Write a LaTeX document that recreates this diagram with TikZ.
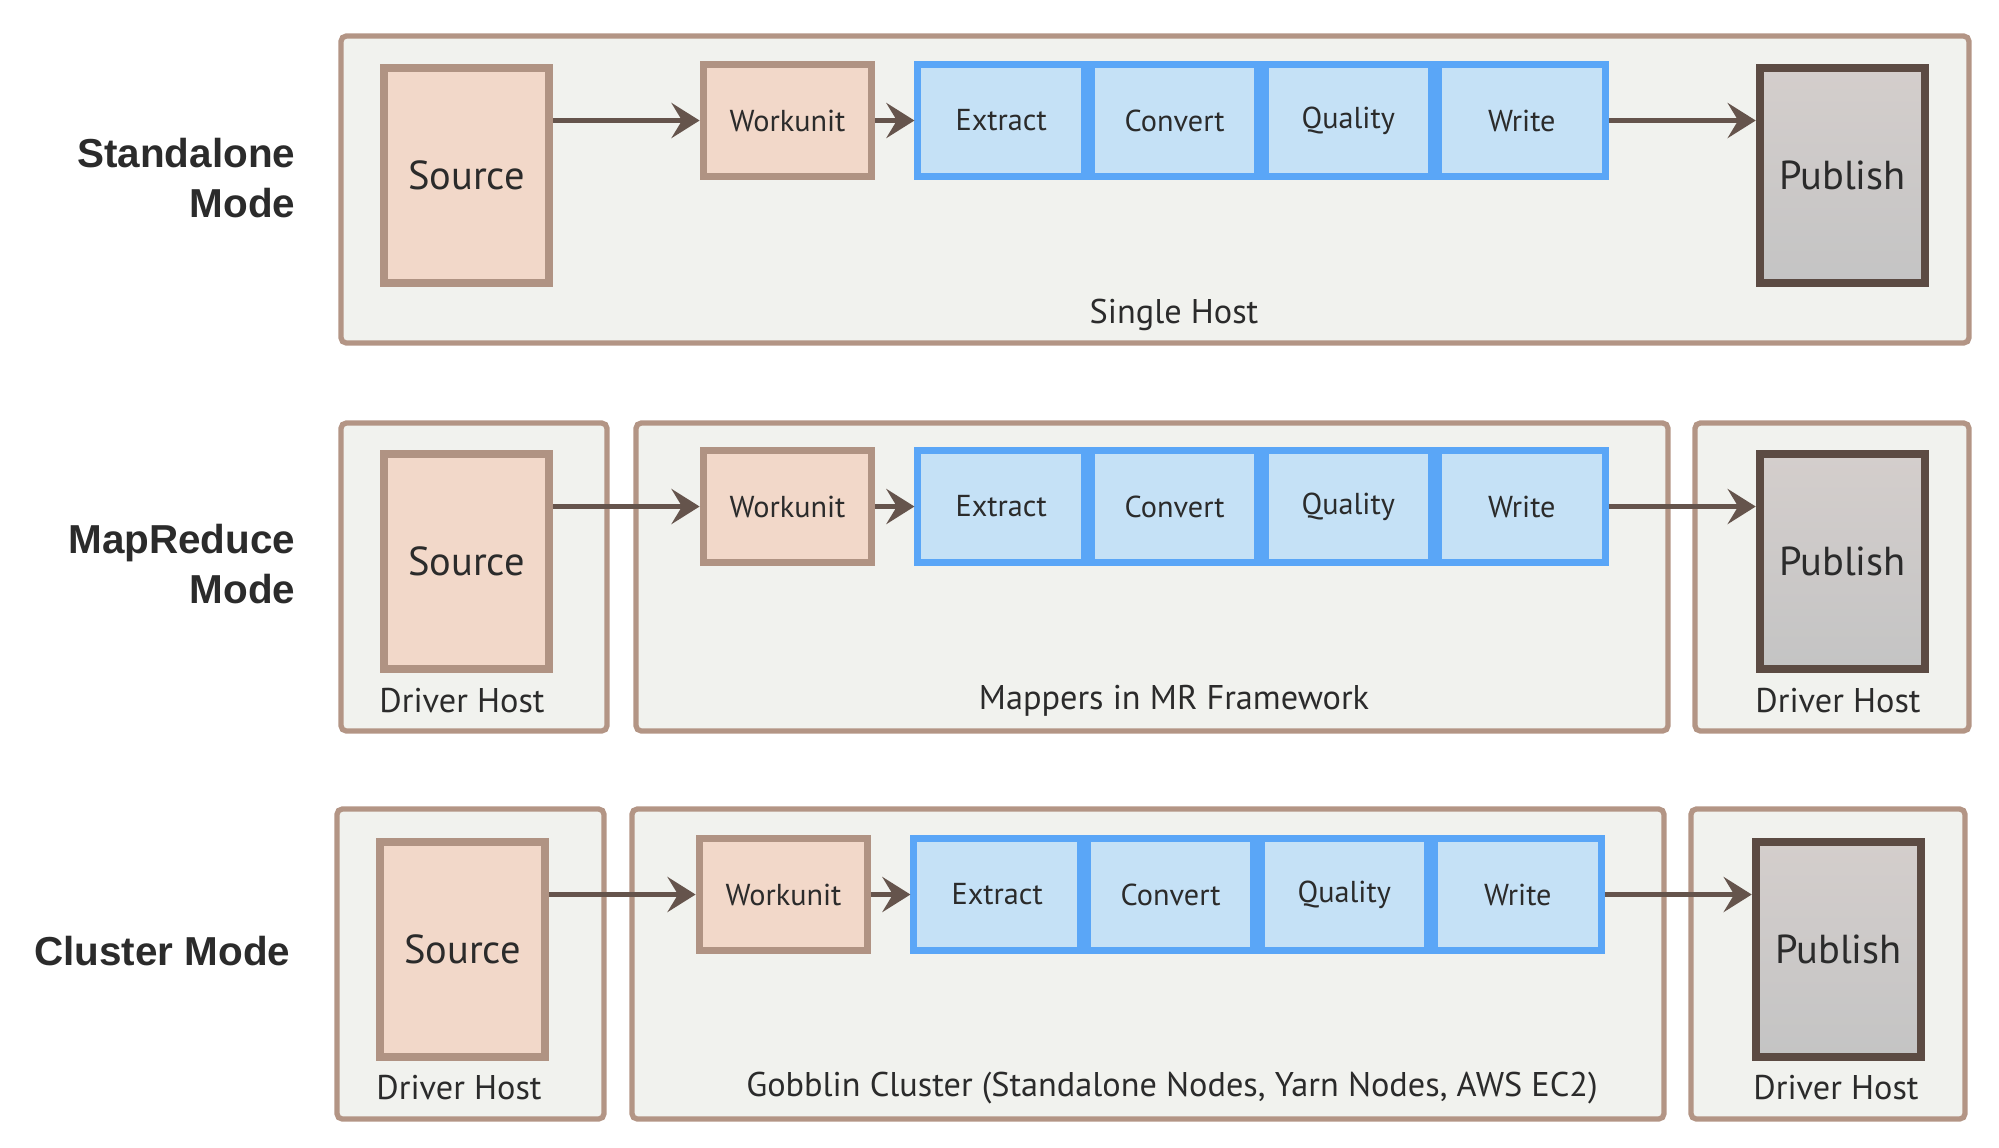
\documentclass[tikz,border=0pt]{standalone}
\usepackage{fontspec}
\setmainfont{PT Sans}
\newfontfamily\modefont{Liberation Sans}
\usetikzlibrary{arrows.meta}
\usetikzlibrary{positioning}
\definecolor{host line}{HTML}{B39585}
\definecolor{host fill}{HTML}{F1F2EE}
\definecolor{peach}{HTML}{F2D8C9}
\definecolor{peach line}{HTML}{B09383}
\definecolor{stage fill}{HTML}{C5E1F6}
\definecolor{stage line}{HTML}{5AA6F7}
\definecolor{pub line}{HTML}{5C4B43}
\definecolor{pub top}{HTML}{D4CECC}
\definecolor{pub bottom}{HTML}{C4C4C4}
\definecolor{arrow line}{HTML}{65544C}
\definecolor{ink}{HTML}{2B2B2B}
\tikzstyle{host}=[draw=host line,fill=host fill,line width=1.5pt,rounded corners=1.5pt]
\tikzstyle{flow}=[draw=arrow line,line width=1.2pt,-{Stealth[length=8pt,width=10pt,inset=3pt]}]

\begin{document}
\begin{tikzpicture}[x=0.01cm,y=-0.01cm,text=ink,
  big/.style={font=\fontsize{11.5}{13}\selectfont},
  small/.style={font=\fontsize{8.6}{10}\selectfont},
  source/.style={draw=peach line,fill=peach,line width=2.4pt,minimum width=1.65cm,minimum height=2.15cm,inner sep=0,big},
  workunit/.style={source,minimum width=1.68cm,minimum height=1.12cm,line width=2.2pt,small},
  stage/.style={draw=stage line,fill=stage fill,line width=2pt,minimum width=1.664cm,minimum height=1.12cm,inner sep=0,small},
  publish/.style={source,draw=pub line,top color=pub top,bottom color=pub bottom},
  hostlabel/.style={font=\fontsize{9.75}{11}\selectfont,inner sep=0},
  modelabel/.style={font=\modefont\bfseries\fontsize{11.5}{14.2}\selectfont,align=right,anchor=east,inner sep=0},
]
  \useasboundingbox (0,0) rectangle (1999,1147);

  % hosts
  \draw[host] (341,36) rectangle (1969,343);
  \draw[host] (341,423) rectangle (607,731);
  \draw[host] (636,423) rectangle (1668,731);
  \draw[host] (1695,423) rectangle (1969,731);
  \draw[host] (337,809) rectangle (604,1119);
  \draw[host] (632,809) rectangle (1664,1119);
  \draw[host] (1691,809) rectangle (1965,1119);

  \node[hostlabel] (single) at (1174,315) {Single Host};
  \node[hostlabel] (drv2a) at (462,701) {Driver Host};
  \node[hostlabel] (mappers) at (1174,701) {Mappers in MR Framework};
  \node[hostlabel] (drv2b) at (1838,701) {Driver Host};
  \node[hostlabel] (drv3a) at (459,1088) {Driver Host};
  \node[hostlabel] (gobblin) at (1172,1088) {Gobblin Cluster (Standalone Nodes, Yarn Nodes, AWS EC2)};
  \node[hostlabel] (drv3b) at (1836,1088) {Driver Host};

  \node[modelabel] (standalone) at (296,178) {Standalone\\Mode};
  \node[modelabel] (mapreduce) at (296,564) {MapReduce\\Mode};
  \node[modelabel] (cluster) at (291,951) {Cluster Mode};

  % pipelines
  \foreach \r/\dx/\dy in {1/0/0,2/0/386,3/-4/774}{
    \begin{scope}[shift={(\dx,\dy)}]
      \node[source] (src\r) at (466.5,175.5) {Source};
      \node[workunit] (wu\r) at (787.5,120.5) {Workunit};
      \node[stage,right=0.39cm of wu\r] (ex\r) {Extract};
      \node[stage,right=0pt of ex\r] (cv\r) {Convert};
      \node[stage,right=0pt of cv\r] (ql\r) {Quality};
      \node[stage,right=0pt of ql\r] (wr\r) {Write};
      \node[publish] (pub\r) at (1842.5,175.5) {Publish};
    \end{scope}
    \draw[flow] (src\r.east |- wu\r) -- (wu\r.west);
    \draw[flow] (wu\r) -- (ex\r);
    \draw[flow] (wr\r.east) -- (pub\r.west |- wr\r);
  }
\end{tikzpicture}
\end{document}
